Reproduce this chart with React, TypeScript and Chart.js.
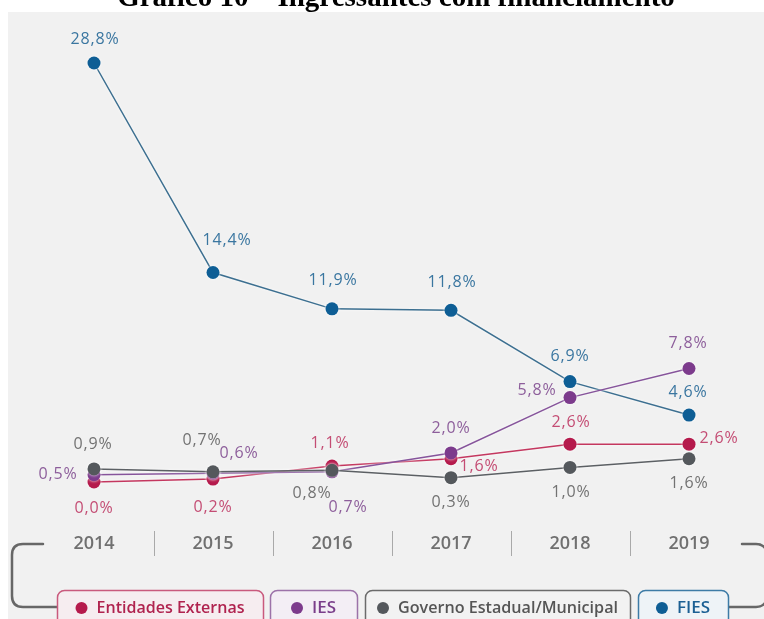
import React, { useEffect, useRef } from "react";
import { Chart, registerables } from "chart.js";

Chart.register(...registerables);

const TITLE = "Gráfico 10 – Ingressantes com financiamento";
const YEARS = ["2014", "2015", "2016", "2017", "2018", "2019"];
const SERIES_NAMES = ["Entidades Externas", "IES", "Governo Estadual/Municipal", "FIES"];
const ENTIDADES_EXTERNAS = [0.0, 0.2, 1.1, 1.6, 2.6, 2.6];
const IES = [0.5, 0.6, 0.7, 2.0, 5.8, 7.8];
const GOVERNO = [0.9, 0.7, 0.8, 0.3, 1.0, 1.6];
const FIES = [28.8, 14.4, 11.9, 11.8, 6.9, 4.6];
const Y_MIN = 0;
const Y_MAX = 28.8;

// label placement (style), relative to each point
const LABEL_OFFSETS = [
  [[0, 26], [0, 28], [-2, -23], [28, 8], [1, -22], [30, -6]],
  [[-36, 0], [26, -20], [16, 36], [0, -24], [-33, -7], [-1, -25]],
  [[-1, -24], [-11, -31], [-20, 23], [0, 25], [1, 25], [0, 25]],
  [[1, -24], [14, -32], [1, -28], [1, -28], [0, -25], [-1, -23]],
];

const STYLES = [
  { line: "#c4375f", point: "#b51a4c", label: "#c44d74", text: "#b0234f", border: "#c95a7d", fill: "#f6edf0", order: 2 },
  { line: "#86549b", point: "#7c3b8c", label: "#8d5e9b", text: "#7a3e8a", border: "#9c72a9", fill: "#f3eef5", order: 1 },
  { line: "#5c6064", point: "#54585c", label: "#727272", text: "#555555", border: "#6b6b6b", fill: "#f2f2f2", order: 0 },
  { line: "#3c6f90", point: "#0e5e95", label: "#3a76a0", text: "#1b5f93", border: "#3d7ba6", fill: "#eef3f7", order: 3 },
];

const LEGEND_BOXES = [
  [57, 263, 148],
  [270, 357, 24],
  [365, 630, 220],
  [638, 728, 36],
];

const fmt = (v: number) => v.toFixed(1).replace(".", ",") + "%";

const decorPlugin = {
  id: "decor",
  beforeDraw(chart: any) {
    const ctx = chart.ctx;
    ctx.save();
    ctx.fillStyle = "#ffffff";
    ctx.fillRect(0, 0, chart.width, chart.height);
    ctx.fillStyle = "#f1f1f1";
    ctx.fillRect(8, 12, chart.width - 8, chart.height - 12);
    ctx.restore();
  },
  beforeDatasetDraw(chart: any) {
    const ctx = chart.ctx;
    ctx.save();
    ctx.shadowColor = "rgba(255,255,255,0.95)";
    ctx.shadowBlur = 3;
  },
  afterDatasetDraw(chart: any) {
    chart.ctx.restore();
  },
  afterDatasetsDraw(chart: any) {
    const ctx = chart.ctx;
    ctx.save();
    ctx.font = '400 16px "Open Sans"';
    (ctx as any).letterSpacing = "0.8px";
    ctx.textAlign = "center";
    ctx.textBaseline = "middle";
    chart.data.datasets.forEach((ds: any, i: number) => {
      const meta = chart.getDatasetMeta(i);
      ctx.fillStyle = STYLES[i].label;
      meta.data.forEach((el: any, j: number) => {
        const [dx, dy] = LABEL_OFFSETS[i][j];
        ctx.fillText(fmt(ds.data[j]), el.x + dx, el.y + dy);
      });
    });
    ctx.restore();
  },
  afterDraw(chart: any) {
    const ctx = chart.ctx;
    const xs = chart.scales.x;
    ctx.save();
    // separators between year labels
    ctx.strokeStyle = "#a9a9a9";
    ctx.lineWidth = 1;
    for (let i = 0; i < YEARS.length - 1; i++) {
      const x = Math.round((xs.getPixelForValue(i) + xs.getPixelForValue(i + 1)) / 2) + 0.5;
      ctx.beginPath();
      ctx.moveTo(x, 531);
      ctx.lineTo(x, 556);
      ctx.stroke();
    }
    // bracket
    ctx.strokeStyle = "#676767";
    ctx.lineWidth = 2.5;
    ctx.lineCap = "round";
    ctx.beginPath();
    ctx.moveTo(43, 544);
    ctx.lineTo(23, 544);
    ctx.quadraticCurveTo(12, 544, 12, 555);
    ctx.lineTo(12, 596);
    ctx.quadraticCurveTo(12, 607, 23, 607);
    ctx.lineTo(57, 607);
    ctx.stroke();
    ctx.beginPath();
    ctx.moveTo(742, 544);
    ctx.lineTo(756, 544);
    ctx.quadraticCurveTo(762, 544, 765, 548);
    ctx.stroke();
    ctx.beginPath();
    ctx.moveTo(729, 607);
    ctx.lineTo(756, 607);
    ctx.quadraticCurveTo(762, 607, 765, 603);
    ctx.stroke();
    // legend boxes
    ctx.lineCap = "butt";
    ctx.font = '600 17px "Open Sans"';
    ctx.textBaseline = "middle";
    ctx.textAlign = "left";
    LEGEND_BOXES.forEach(([l, r, tw], i) => {
      const st = STYLES[i];
      ctx.beginPath();
      (ctx as any).roundRect(l + 0.5, 590.5, r - l, 40, 7);
      ctx.fillStyle = st.fill;
      ctx.fill();
      ctx.strokeStyle = st.border;
      ctx.lineWidth = 1.5;
      ctx.stroke();
      const name = chart.data.datasets[i].label;
      const w = Math.min(ctx.measureText(name).width, tw);
      const contentW = 12 + 9 + w;
      const start = (l + r) / 2 - contentW / 2;
      ctx.fillStyle = st.point;
      ctx.beginPath();
      ctx.arc(start + 6, 608, 6, 0, Math.PI * 2);
      ctx.fill();
      ctx.fillStyle = st.text;
      ctx.fillText(name, start + 21, 608, tw);
    });
    ctx.restore();
  },
};

export default function App() {
  const ref = useRef<HTMLCanvasElement>(null);
  useEffect(() => {
    if (!ref.current) return;
    const series = [ENTIDADES_EXTERNAS, IES, GOVERNO, FIES];
    const chart = new Chart(ref.current, {
      type: "line",
      data: {
        labels: YEARS,
        datasets: series.map((d, i) => ({
          label: SERIES_NAMES[i],
          data: d,
          borderColor: STYLES[i].line,
          borderWidth: 1.5,
          backgroundColor: STYLES[i].point,
          pointBackgroundColor: STYLES[i].point,
          pointBorderWidth: 0,
          pointRadius: 6.5,
          pointHoverRadius: 6.5,
          tension: 0,
          clip: false as any,
          order: STYLES[i].order,
        })),
      },
      options: {
        responsive: false,
        animation: false,
        devicePixelRatio: 1,
        events: [],
        layout: { padding: { top: 63, left: 94, right: 75, bottom: 13.4 } },
        plugins: { legend: { display: false }, tooltip: { enabled: false }, title: { display: false } },
        scales: {
          x: {
            type: "category",
            offset: false,
            grid: { display: false, drawTicks: false },
            border: { display: false },
            ticks: {
              padding: 51,
              maxRotation: 0,
              autoSkip: false,
              color: "#707070",
              font: { family: "Open Sans", size: 18, weight: "600" as any },
            },
          },
          y: { display: false, min: Y_MIN, max: Y_MAX },
        },
      },
      plugins: [decorPlugin],
    });
    return () => chart.destroy();
  }, []);

  return (
    <div style={{ position: "absolute", left: 0, top: 0, width: 764, height: 619, overflow: "hidden", background: "#fff" }}>
      <canvas ref={ref} width={764} height={619} style={{ position: "absolute", left: 0, top: 0, width: 764, height: 619 }} />
      <div
        style={{
          position: "absolute",
          left: 0,
          top: -18,
          width: 792,
          textAlign: "center",
          fontFamily: '"Liberation Serif", serif',
          fontWeight: "bold",
          fontSize: 29,
          lineHeight: "29px",
          color: "#000",
          whiteSpace: "nowrap",
        }}
      >
        {TITLE}
      </div>
    </div>
  );
}
